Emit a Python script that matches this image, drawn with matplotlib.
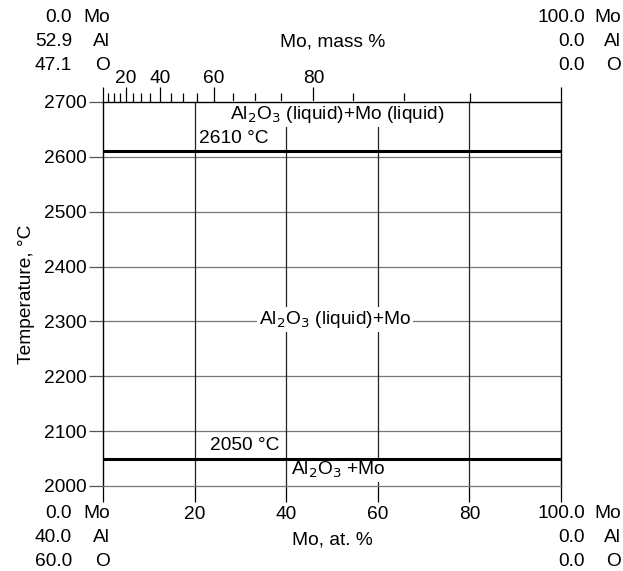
import numpy as np
import matplotlib
matplotlib.use('Agg')
import matplotlib.pyplot as plt

plt.rcParams['font.family'] = ['Liberation Sans', 'DejaVu Sans']
FS = 13.8

# isotherms (°C) and their labels
iso_T = [2610, 2050]
iso_lbl = ['2610 °C', '2050 °C']
iso_lbl_x = [28.6, 31.0]

# phase regions: label, x (at.% Mo), T
phase_lbl = ['Al$_2$O$_3$ (liquid)+Mo (liquid)', 'Al$_2$O$_3$ (liquid)+Mo', 'Al$_2$O$_3$ +Mo']
phase_x = [51.1, 50.7, 51.3]
phase_T = [2678, 2303, 2029]

at_ticks = [0, 20, 40, 60, 80, 100]
T_ticks = [2000, 2100, 2200, 2300, 2400, 2500, 2600, 2700]
mass_major = [0, 20, 40, 60, 80, 100]
mass_minor = [5, 10, 15, 25, 30, 35, 45, 50, 55, 65, 70, 75, 85, 90, 95]

# end compositions (at.% bottom, mass % top)
el = ['Mo', 'Al', 'O']
at_left = ['0.0', '40.0', '60.0']
at_right = ['100.0', '0.0', '0.0']
mass_left = ['0.0', '52.9', '47.1']
mass_right = ['100.0', '0.0', '0.0']

M_MO = 95.95
M_OX = (2 * 26.98 + 3 * 16.00) / 5  # mean atomic mass in Al2O3


def at2mass(x):
    x = np.asarray(x, dtype=float)
    return 100 * M_MO * x / (M_MO * x + M_OX * (100 - x))


def mass2at(w):
    w = np.asarray(w, dtype=float)
    a = w / M_MO
    return 100 * a / (a + (100 - w) / M_OX)


fig = plt.figure(figsize=(6.23, 5.71), dpi=100)
ax = fig.add_axes([0.1653, 0.1489, 0.7352, 0.6725])
ax.set_xlim(0, 100)
ax.set_ylim(2000, 2700)

# grid
for t in T_ticks[1:-1]:
    ax.axhline(t, color='#777777', lw=0.9, zorder=1)
for x in at_ticks[1:-1]:
    ax.axvline(x, color='#222222', lw=0.9, zorder=1)

for t, s, x in zip(iso_T, iso_lbl, iso_lbl_x):
    ax.axhline(t, color='black', lw=2.2, zorder=2)
    ax.text(x, t + 24, s, ha='center', va='center', fontsize=FS, zorder=3)

# white boxes hide the grid lines but stay under the isotherms and spines
for s, x, t in zip(phase_lbl, phase_x, phase_T):
    ax.text(x, t, s, ha='center', va='center', fontsize=FS, zorder=1.5,
            bbox=dict(facecolor='white', edgecolor='none', pad=1.5))

for side in ['left', 'right']:
    ax.spines[side].set_linewidth(1.0)
ax.spines['top'].set_linewidth(1.0)
ax.spines['bottom'].set_color('#777777')
ax.spines['bottom'].set_linewidth(0.9)

ax.set_yticks(T_ticks)
ax.tick_params(axis='y', direction='out', length=10, width=0.9,
               labelsize=FS, pad=1.5, color='#555555')
ax.set_xticks(at_ticks)
ax.set_xticklabels(['', '20', '40', '60', '80', ''])
ax.tick_params(axis='x', direction='out', length=11.5, width=0.9,
               labelsize=FS, pad=3)
ax.set_ylabel('Temperature, °C', fontsize=FS, labelpad=7)
ax.set_xlabel('Mo, at. %', fontsize=FS, labelpad=6)

sec = ax.secondary_xaxis('top', functions=(at2mass, mass2at))
sec.set_xticks(mass_major)
sec.set_xticklabels(['', '20', '40', '60', '80', ''])
sec.set_xticks(mass_minor, minor=True)
sec.tick_params(which='major', direction='out', length=11, width=0.9,
                labelsize=FS, pad=0)
sec.tick_params(which='minor', direction='out', length=6.5, width=0.9)
sec.spines['top'].set_visible(False)

fig.text(333 / 623, 1 - 42 / 571, 'Mo, mass %', ha='center', va='center', fontsize=FS)

W, H = 623, 571
rows_top = [17, 42, 65]
rows_bot = [514, 538, 562]
for i in range(3):
    fig.text(72 / W, 1 - rows_top[i] / H, mass_left[i], ha='right', va='center', fontsize=FS)
    fig.text(110 / W, 1 - rows_top[i] / H, el[i], ha='right', va='center', fontsize=FS)
    fig.text(585 / W, 1 - rows_top[i] / H, mass_right[i], ha='right', va='center', fontsize=FS)
    fig.text(621 / W, 1 - rows_top[i] / H, el[i], ha='right', va='center', fontsize=FS)
    fig.text(72 / W, 1 - rows_bot[i] / H, at_left[i], ha='right', va='center', fontsize=FS)
    fig.text(110 / W, 1 - rows_bot[i] / H, el[i], ha='right', va='center', fontsize=FS)
    fig.text(585 / W, 1 - rows_bot[i] / H, at_right[i], ha='right', va='center', fontsize=FS)
    fig.text(621 / W, 1 - rows_bot[i] / H, el[i], ha='right', va='center', fontsize=FS)

fig.savefig('out.png', dpi=100)
